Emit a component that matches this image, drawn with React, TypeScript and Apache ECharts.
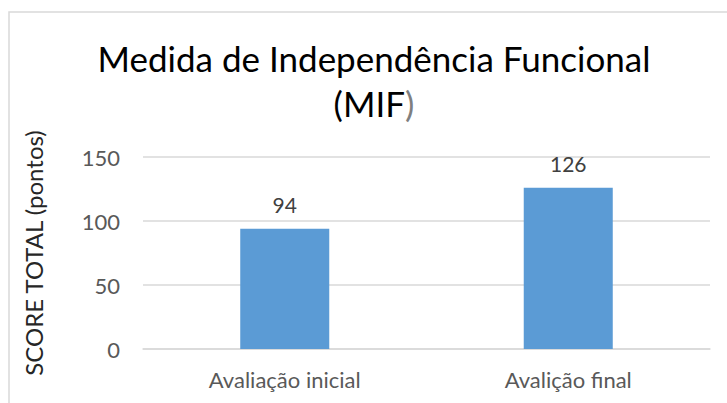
import React, { useEffect, useRef } from "react";
import * as echarts from "echarts";

const categories = ["Avaliação inicial", "Avalição final"];
const scores = [94, 126];
const yTicks = { min: 0, max: 150, interval: 50 };
const titleMain = "Medida de Independência Funcional";
const titleSub = "(MIF";
const titleSubEnd = ")";
const yName = "SCORE TOTAL (pontos)";

export default function App() {
  const ref = useRef<HTMLDivElement>(null);
  useEffect(() => {
    if (!ref.current) return;
    const chart = echarts.init(ref.current, null, { renderer: "svg" });
    const font = "Lato, 'Open Sans', sans-serif";
    chart.setOption({
      animation: false,
      backgroundColor: "#ffffff",
      title: {
        text: `{m|${titleMain}}\n{m|${titleSub}}{g|${titleSubEnd}}`,
        left: 369,
        top: 30,
        textAlign: "center",
        textStyle: {
          rich: {
            m: { fontFamily: font, fontSize: 35, fontWeight: "normal", color: "#000000", lineHeight: 45 },
            g: { fontFamily: font, fontSize: 35, fontWeight: "normal", color: "#7f7f7f", lineHeight: 45 },
          },
        },
      },
      graphic: [
        {
          type: "polyline",
          shape: { points: [[9, 403], [9, 12], [727, 12]] },
          style: { stroke: "#d9d9d9", lineWidth: 1.5, fill: null },
          silent: true,
        },
      ],
      grid: { left: 143, right: 17, top: 157, bottom: 54, containLabel: false },
      xAxis: {
        type: "category",
        data: categories,
        axisLine: { show: true, lineStyle: { color: "#d9d9d9", width: 1.5 } },
        axisTick: { show: false },
        axisLabel: { color: "#595959", fontFamily: font, fontSize: 22, margin: 19 },
      },
      yAxis: {
        type: "value",
        min: yTicks.min,
        max: yTicks.max,
        interval: yTicks.interval,
        name: yName,
        nameLocation: "middle",
        nameGap: 98,
        nameTextStyle: { color: "#262626", fontFamily: font, fontSize: 24 },
        axisLine: { show: false },
        axisTick: { show: false },
        axisLabel: { color: "#595959", fontFamily: font, fontSize: 22, margin: 23 },
        splitLine: { lineStyle: { color: "#d9d9d9", width: 1.5 } },
      },
      series: [
        {
          type: "bar",
          data: scores,
          barWidth: "31.4%",
          itemStyle: { color: "#5b9bd5" },
          label: {
            show: true,
            position: "top",
            distance: 14,
            color: "#404040",
            fontFamily: font,
            fontSize: 21,
          },
        },
      ],
    });
    return () => chart.dispose();
  }, []);
  return (
    <div
      ref={ref}
      style={{ position: "fixed", left: 0, top: 0, width: 727, height: 403 }}
    />
  );
}
